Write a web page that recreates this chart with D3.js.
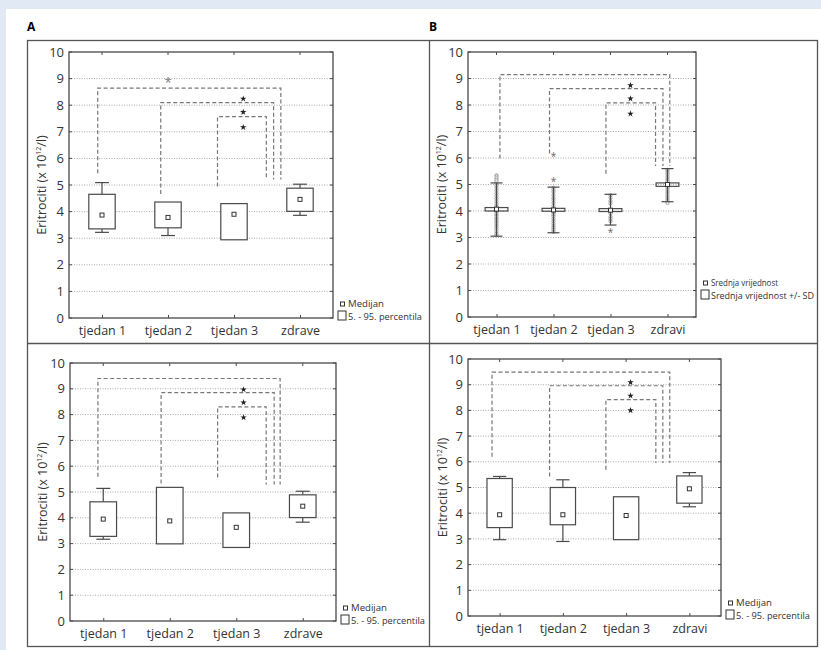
<!DOCTYPE html>
<html>
<head>
<meta charset="utf-8">
<script src="https://cdn.jsdelivr.net/npm/d3@7"></script>
<style>
  body { margin: 0; background: #e1e9f4; }
  svg { display: block; font-family: "Open Sans", sans-serif; }
</style>
</head>
<body>
<svg id="chart" width="821" height="650"></svg>
<script>
// categories + ticks
var catsF = ["tjedan 1", "tjedan 2", "tjedan 3", "zdrave"];
var catsM = ["tjedan 1", "tjedan 2", "tjedan 3", "zdravi"];
var yTicks = [0, 1, 2, 3, 4, 5, 6, 7, 8, 9, 10];

// panel A - median / 5-95 percentile
var medianA = [3.87, 3.78, 3.90, 4.46];
var boxLowA = [3.35, 3.39, 2.94, 4.01];
var boxHighA = [4.65, 4.36, 4.30, 4.88];
var whiskLowA = [3.22, 3.10, null, 3.86];
var whiskHighA = [5.09, null, null, 5.03];
var brTopA = [8.64, 8.10, 7.57];
var brLeftA = [-0.065, 0.89, 1.75];
var brLeftEndA = [5.44, 4.66, 4.94];
var brRightA = [2.71, 2.60, 2.49];
var brRightEndA = [5.21, 5.21, 5.21];
var starXA = [1.0, 2.14, 2.14, 2.14];
var starYA = [8.92, 8.24, 7.74, 7.17];
var starKindA = ["light", "bold", "bold", "bold"];

// panel B - mean / SD with raw values
var meanB = [4.07, 4.04, 4.03, 5.0];
var boxLowB = [4.00, 3.99, 3.98, 4.93];
var boxHighB = [4.13, 4.10, 4.09, 5.06];
var sdLowB = [3.05, 3.18, 3.47, 4.35];
var sdHighB = [5.06, 4.90, 4.63, 5.60];
var pointsB1 = [5.35, 5.3, 5.24, 5.18, 5.12, 5.03, 4.95, 4.86, 4.77, 4.66, 4.55, 4.47, 4.36, 4.27, 4.18, 3.96, 3.9, 3.84, 3.78, 3.71, 3.66, 3.58, 3.51, 3.43, 3.37, 3.3, 3.22, 3.14, 3.08];
var pointsB2 = [4.88, 4.8, 4.72, 4.6, 4.49, 4.41, 4.3, 4.2, 3.93, 3.86, 3.8, 3.71, 3.62, 3.52, 3.43, 3.36, 3.29, 3.21];
var pointsB3 = [4.6, 4.5, 4.38, 4.28, 3.9, 3.78, 3.71, 3.62];
var pointsB4 = [5.55, 5.5, 5.44, 5.38, 5.31, 5.24, 5.17, 5.11, 4.88, 4.81, 4.74, 4.67, 4.59, 4.52, 4.45, 4.38, 4.3];
var outliersB = [[], [6.1, 5.18], [3.23], []];
var brTopB = [9.15, 8.62, 8.08];
var brLeftB = [0.06, 0.93, 1.92];
var brLeftEndB = [5.98, 6.17, 5.41];
var brRightB = [3.04, 2.92, 2.79];
var brRightEndB = [5.7, 5.7, 5.7];
var starXB = [2.35, 2.35, 2.35];
var starYB = [8.74, 8.24, 7.67];

// panel C - median / 5-95 percentile
var medianC = [3.95, 3.88, 3.63, 4.45];
var boxLowC = [3.28, 2.99, 2.85, 4.01];
var boxHighC = [4.62, 5.18, 4.19, 4.89];
var whiskLowC = [3.17, null, null, 3.83];
var whiskHighC = [5.14, null, null, 5.03];
var brTopC = [9.40, 8.85, 8.30];
var brLeftC = [-0.08, 0.87, 1.72];
var brLeftEndC = [5.59, 5.33, 5.56];
var brRightC = [2.66, 2.57, 2.45];
var brRightEndC = [5.29, 5.29, 5.29];
var starXC = [2.11, 2.11, 2.11];
var starYC = [8.97, 8.47, 7.89];

// panel D - median / 5-95 percentile
var medianD = [3.94, 3.94, 3.91, 4.95];
var boxLowD = [3.44, 3.55, 2.97, 4.39];
var boxHighD = [5.35, 5.0, 4.64, 5.45];
var whiskLowD = [2.97, 2.90, null, 4.25];
var whiskHighD = [5.43, 5.30, null, 5.58];
var brTopD = [9.49, 8.96, 8.42];
var brLeftD = [-0.12, 0.79, 1.68];
var brLeftEndD = [6.2, 5.43, 5.69];
var brRightD = [2.69, 2.58, 2.47];
var brRightEndD = [5.95, 5.95, 5.95];
var starXD = [2.07, 2.07, 2.07];
var starYD = [9.09, 8.57, 8.0];

var legendMed = ["Medijan", "5. - 95. percentila"];
var legendMean = ["Srednja vrijednost", "Srednja vrijednost +/- SD"];

var svg = d3.select("#chart");
var ink = "#4a4a4a";

// white sheet + frame
svg.append("rect").attr("x", 6).attr("y", 9).attr("width", 815).attr("height", 641).attr("fill", "#fff");
svg.append("rect").attr("x", 27.5).attr("y", 40.5).attr("width", 790).attr("height", 606)
  .attr("fill", "none").attr("stroke", "#555").attr("stroke-width", 1.3);
svg.append("line").attr("x1", 429.5).attr("x2", 429.5).attr("y1", 40.5).attr("y2", 646.5)
  .attr("stroke", "#555").attr("stroke-width", 1.3);
svg.append("line").attr("x1", 27.5).attr("x2", 817.5).attr("y1", 343.5).attr("y2", 343.5)
  .attr("stroke", "#555").attr("stroke-width", 1.3);
svg.append("text").attr("x", 27).attr("y", 31).attr("font-size", 12).attr("font-weight", "bold").text("A");
svg.append("text").attr("x", 429).attr("y", 31).attr("font-size", 12).attr("font-weight", "bold").text("B");

function brackets(g, x, y, top, left, leftEnd, right, rightEnd) {
  g.selectAll(".br").data(top).enter().append("path")
    .attr("d", function(d, i) {
      return "M" + x(left[i]) + "," + y(leftEnd[i]) + "V" + y(d) + "H" + x(right[i]) + "V" + y(rightEnd[i]);
    })
    .attr("fill", "none").attr("stroke", "#777").attr("stroke-width", 1.2)
    .attr("stroke-dasharray", "4,2.5");
}

function stars(g, x, y, sx, sy, kind) {
  sx.forEach(function(d, i) {
    if (kind && kind[i] == "light") {
      g.append("text").attr("x", x(d)).attr("y", y(sy[i]) + 6).attr("text-anchor", "middle")
        .attr("font-size", 13).attr("fill", "#777").text("*");
    } else {
      g.append("path").attr("d", d3.symbol(d3.symbolStar, 13)())
        .attr("transform", "translate(" + x(d) + "," + y(sy[i]) + ")").attr("fill", "#222");
    }
  });
}

function panel(p) {
  var x = d3.scaleLinear().domain([-0.5, 3.5]).range([p.left, p.right]);
  var y = d3.scaleLinear().domain([0, 10]).range([p.bottom, p.top]);
  var band = x(1) - x(0);
  var g = svg.append("g");

  // dotted gridlines
  g.selectAll(".grid").data(yTicks.slice(1, -1)).enter().append("line")
    .attr("x1", p.left).attr("x2", p.right)
    .attr("y1", function(d) { return y(d); }).attr("y2", function(d) { return y(d); })
    .attr("stroke", "#aaa").attr("stroke-width", 1).attr("stroke-dasharray", "1,1.5");

  var ax = g.append("g").attr("transform", "translate(" + p.left + ",0)")
    .call(d3.axisLeft(y).tickValues(yTicks).tickSize(0).tickPadding(5));
  ax.select(".domain").remove();
  ax.selectAll("text").attr("font-size", 13).attr("fill", "#333").attr("font-family", "Open Sans");
  // inner ticks on all sides
  g.selectAll(".tl").data(yTicks).enter().append("line")
    .attr("x1", p.left).attr("x2", p.left + 3)
    .attr("y1", function(d) { return y(d); }).attr("y2", function(d) { return y(d); }).attr("stroke", ink);
  g.selectAll(".tr").data(yTicks).enter().append("line")
    .attr("x1", p.right).attr("x2", p.right - 3)
    .attr("y1", function(d) { return y(d); }).attr("y2", function(d) { return y(d); }).attr("stroke", ink);
  g.selectAll(".tt").data([0, 1, 2, 3]).enter().append("line")
    .attr("x1", function(d) { return x(d); }).attr("x2", function(d) { return x(d); })
    .attr("y1", p.top).attr("y2", p.top + 3).attr("stroke", ink);

  var bx = g.append("g").attr("transform", "translate(0," + p.bottom + ")")
    .call(d3.axisBottom(x).tickValues([0, 1, 2, 3]).tickFormat(function(i) { return p.cats[i]; })
      .tickSize(-3).tickPadding(8));
  bx.select(".domain").remove();
  bx.selectAll("line").attr("stroke", ink);
  bx.selectAll("text").attr("font-size", 12.5).attr("fill", "#333").attr("font-family", "Open Sans");

  // y title
  var t = g.append("text").attr("transform", "translate(" + p.titleX + "," + (p.top + p.bottom) / 2 + ") rotate(-90)")
    .attr("text-anchor", "middle").attr("font-size", 12.5).attr("fill", "#333");
  t.append("tspan").text("Eritrociti (x 10");
  t.append("tspan").attr("font-size", 7).attr("dy", -5).text("12");
  t.append("tspan").attr("dy", 5).text("/l)");

  brackets(g, x, y, p.brTop, p.brLeft, p.brLeftEnd, p.brRight, p.brRightEnd);

  var idx = [0, 1, 2, 3];
  var bw = band * 0.4, cw = band * 0.21;

  if (p.points) {
    p.points.forEach(function(arr, i) {
      g.selectAll(".pt" + i).data(arr).enter().append("circle")
        .attr("cx", x(i)).attr("cy", function(d) { return y(d); }).attr("r", 1.6)
        .attr("fill", "#fff").attr("stroke", "#999").attr("stroke-width", 0.9);
    });
    p.outliers.forEach(function(arr, i) {
      arr.forEach(function(d) {
        g.append("text").attr("x", x(i)).attr("y", y(d) + 5).attr("text-anchor", "middle")
          .attr("font-size", 10).attr("fill", "#666").text("*");
      });
    });
  }

  // whiskers
  idx.forEach(function(i) {
    var lo = p.whiskLow[i], hi = p.whiskHigh[i];
    if (hi != null) {
      g.append("line").attr("x1", x(i)).attr("x2", x(i)).attr("y1", y(hi)).attr("y2", y(p.boxHigh[i])).attr("stroke", ink).attr("stroke-width", 1.2);
      g.append("line").attr("x1", x(i) - cw / 2).attr("x2", x(i) + cw / 2).attr("y1", y(hi)).attr("y2", y(hi)).attr("stroke", ink).attr("stroke-width", 1.2);
    }
    if (lo != null) {
      g.append("line").attr("x1", x(i)).attr("x2", x(i)).attr("y1", y(lo)).attr("y2", y(p.boxLow[i])).attr("stroke", ink).attr("stroke-width", 1.2);
      g.append("line").attr("x1", x(i) - cw / 2).attr("x2", x(i) + cw / 2).attr("y1", y(lo)).attr("y2", y(lo)).attr("stroke", ink).attr("stroke-width", 1.2);
    }
  });

  g.selectAll(".box").data(idx).enter().append("rect")
    .attr("x", function(i) { return x(i) - bw / 2; })
    .attr("y", function(i) { return y(p.boxHigh[i]); })
    .attr("width", bw)
    .attr("height", function(i) { return y(p.boxLow[i]) - y(p.boxHigh[i]); })
    .attr("fill", p.points ? "none" : "#fff").attr("stroke", ink).attr("stroke-width", 1.2);

  g.selectAll(".med").data(idx).enter().append("rect")
    .attr("x", function(i) { return x(i) - 2; })
    .attr("y", function(i) { return y(p.center[i]) - 2; })
    .attr("width", 4).attr("height", 4)
    .attr("fill", "#fff").attr("stroke", "#333").attr("stroke-width", 1);

  stars(g, x, y, p.starX, p.starY, p.starKind);

  // plot frame
  g.append("rect").attr("x", p.left).attr("y", p.top).attr("width", p.right - p.left).attr("height", p.bottom - p.top)
    .attr("fill", "none").attr("stroke", ink).attr("stroke-width", 1.3);

  // legend (condensed font in the original, so squeeze text to its width)
  var lx = p.legendX, ly = p.legendY;
  g.append("rect").attr("x", lx + 1.5).attr("y", ly - 3).attr("width", 4).attr("height", 4)
    .attr("fill", "#fff").attr("stroke", "#333");
  g.append("text").attr("x", lx + 9).attr("y", ly + 2).attr("font-size", 8.5).attr("fill", "#333")
    .attr("textLength", p.legendW[0]).attr("lengthAdjust", "spacingAndGlyphs").text(p.legend[0]);
  g.append("rect").attr("x", lx - 1).attr("y", ly + 6).attr("width", 8).attr("height", 9)
    .attr("fill", "#fff").attr("stroke", "#333");
  g.append("text").attr("x", lx + 9).attr("y", ly + 14.5).attr("font-size", 8.5).attr("fill", "#333")
    .attr("textLength", p.legendW[1]).attr("lengthAdjust", "spacingAndGlyphs").text(p.legend[1]);
}

panel({ left: 69, top: 52, right: 333, bottom: 318, cats: catsF, titleX: 46,
  center: medianA, boxLow: boxLowA, boxHigh: boxHighA, whiskLow: whiskLowA, whiskHigh: whiskHighA,
  brTop: brTopA, brLeft: brLeftA, brLeftEnd: brLeftEndA, brRight: brRightA, brRightEnd: brRightEndA,
  starX: starXA, starY: starYA, starKind: starKindA, legend: legendMed, legendW: [36, 74], legendX: 339, legendY: 305 });

panel({ left: 468, top: 52, right: 696, bottom: 317, cats: catsM, titleX: 446,
  center: meanB, boxLow: boxLowB, boxHigh: boxHighB, whiskLow: sdLowB, whiskHigh: sdHighB,
  points: [pointsB1, pointsB2, pointsB3, pointsB4], outliers: outliersB,
  brTop: brTopB, brLeft: brLeftB, brLeftEnd: brLeftEndB, brRight: brRightB, brRightEnd: brRightEndB,
  starX: starXB, starY: starYB, legend: legendMean, legendW: [67, 103], legendX: 702, legendY: 284 });

panel({ left: 70, top: 363, right: 336, bottom: 621, cats: catsF, titleX: 47,
  center: medianC, boxLow: boxLowC, boxHigh: boxHighC, whiskLow: whiskLowC, whiskHigh: whiskHighC,
  brTop: brTopC, brLeft: brLeftC, brLeftEnd: brLeftEndC, brRight: brRightC, brRightEnd: brRightEndC,
  starX: starXC, starY: starYC, legend: legendMed, legendW: [36, 74], legendX: 342, legendY: 609 });

panel({ left: 468, top: 359, right: 721, bottom: 616, cats: catsM, titleX: 447,
  center: medianD, boxLow: boxLowD, boxHigh: boxHighD, whiskLow: whiskLowD, whiskHigh: whiskHighD,
  brTop: brTopD, brLeft: brLeftD, brLeftEnd: brLeftEndD, brRight: brRightD, brRightEnd: brRightEndD,
  starX: starXD, starY: starYD, legend: legendMed, legendW: [36, 74], legendX: 727, legendY: 604 });
</script>
</body>
</html>
